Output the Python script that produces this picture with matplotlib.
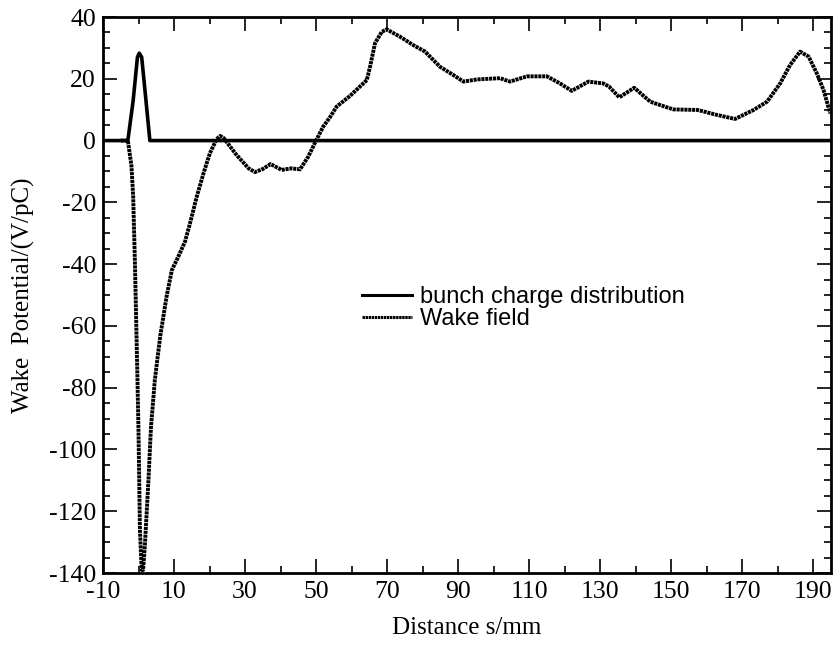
import matplotlib
matplotlib.use('Agg')
import matplotlib.pyplot as plt
from matplotlib.ticker import MultipleLocator

plt.rcParams['axes.unicode_minus'] = False

# ---- data --------------------------------------------------------------------
bunch_s = [-10, -3.0, -1.5, -0.3, 0.2, 0.9, 2.1, 3.2, 195]
bunch_v = [0, 0, 13, 27, 28.3, 27, 13, 0, 0]

wake_s = [-5.0, -3.0, -2.0, -1.5, -1.0, -0.6, -0.3, 0.0, 0.4, 0.9, 1.3, 1.8,
          2.8, 3.5, 4.6, 6.1, 7.9, 9.4, 11.2, 13.1, 14.5, 16.4, 18.3, 20.1,
          22.0, 23.0, 24.0, 27.5, 31.0, 32.8, 35.0, 37.2, 40.3, 43.0, 45.5,
          47.8, 50.0, 52.0, 54.0, 55.8, 59.6, 64.3, 65.2, 66.6, 68.5, 69.9,
          73.7, 77.4, 80.7, 84.9, 88.7, 91.5, 95.3, 101.8, 104.6, 109.4, 115.0,
          118.7, 122.0, 126.7, 130.9, 132.5, 135.4, 139.6, 144.1, 146.9,
          150.6, 157.5, 162.9, 168.0, 173.2, 177.0, 180.7, 183.5, 186.3,
          188.7, 191.0, 192.9, 194.8]
wake_v = [0, 0, -8, -18, -40, -61, -77, -94, -126, -139, -139, -131,
          -110, -93, -77.5, -63.5, -50.5, -41.9, -37.6, -32.7, -26.8, -18.2,
          -10.6, -4.1, 0.5, 1.5, 0.8, -4.5, -9.0, -10.2, -9.2, -7.6, -9.5, -9.0,
          -9.3, -5.2, 0, 4.5, 7.7, 11.0, 14.5, 19.6, 23.9, 31.5, 35.2, 36.0,
          33.6, 30.9, 28.8, 23.9, 21.2, 19.1, 19.8, 20.2, 19.1, 20.8, 20.8,
          18.5, 16.1, 19.1, 18.5, 17.5, 14.0, 17.1, 12.6, 11.5,
          10.1, 9.9, 8.3, 7.0, 9.9, 12.6, 18.5, 24.5, 28.8,
          27.2, 21.8, 16.4, 8.8]

x_ticks = list(range(-10, 191, 20))

# ---- figure ------------------------------------------------------------------
fig = plt.figure(figsize=(8.38, 6.45), dpi=100)
ax = fig.add_axes([0.1229, 0.1116, 0.8687, 0.862])

ax.plot(bunch_s, bunch_v, '-', color='black', lw=2.6, label='bunch charge distribution')
ax.plot(wake_s, wake_v, ':', color='black', lw=2.8, dashes=(0.8, 0.2),
        label='Wake field')

ax.set_xlim(-10, 195)
ax.set_ylim(-140, 40)
ax.set_xticks(x_ticks)
ax.xaxis.set_minor_locator(MultipleLocator(10))
ax.yaxis.set_major_locator(MultipleLocator(20))
ax.yaxis.set_minor_locator(MultipleLocator(5))
ax.tick_params(which='both', direction='in', top=True, right=True, width=1.2)
ax.tick_params(which='major', length=10, pad=6)
ax.tick_params(axis='y', which='major', pad=5)
ax.tick_params(which='minor', length=5)
for sp in ax.spines.values():
    sp.set_linewidth(2)

for lab in ax.get_xticklabels() + ax.get_yticklabels():
    lab.set_family('Liberation Serif')
    lab.set_fontsize(18.5)

ax.set_xlabel('Distance s/mm', family='Liberation Serif', fontsize=18, labelpad=10)
ax.set_ylabel('Wake  Potential/(V/pC)', family='Liberation Serif', fontsize=18,
              labelpad=10)

leg = ax.legend(loc='upper left', bbox_to_anchor=(0.356, 0.516), frameon=False,
                prop={'family': 'Liberation Sans', 'size': 17}, handlelength=2.1,
                handletextpad=0.35, labelspacing=0.0, borderaxespad=0,
                borderpad=0)
for h in leg.get_lines():
    h.set_linewidth(2.2)

fig.savefig('out.png', dpi=100)
